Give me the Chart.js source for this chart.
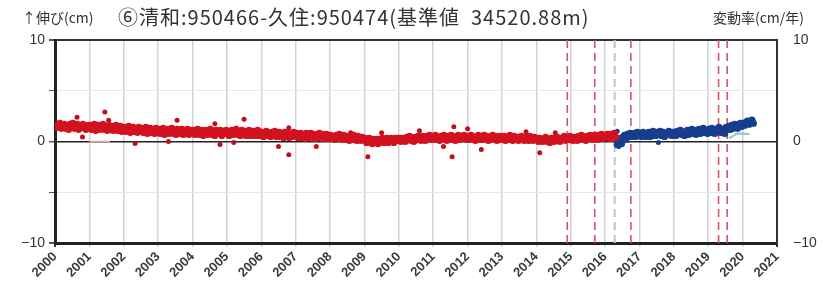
<!DOCTYPE html>
<html><head><meta charset="utf-8">
<script src="https://cdn.jsdelivr.net/npm/chart.js@4"></script>
<style>html,body{margin:0;padding:0;background:#fff}#wrap{width:831px;height:291px}</style>
</head><body><div id="wrap"><canvas id="c" width="831" height="291"></canvas></div>
<script>
const titleText = '⑥清和:950466-久住:950474(基準値  34520.88m)';
const leftUnit = '↑伸び(cm)';
const rightUnit = '変動率(cm/年)';
const yearTicks = [2000,2001,2002,2003,2004,2005,2006,2007,2008,2009,2010,2011,2012,2013,2014,2015,2016,2017,2018,2019,2020,2021];

// elongation (cm), sampled twice a month
const redStartYear = 2000;
const redElongation = [
 1.6,1.4,1.5,1.8,1.3,1.5,1.7,1.3,1.5,1.2,1.7,1.5,1.8,1.3,1.5,1.7,1.2,1.5,1.4,1.7,1.5,1.2,1.4,1.6,
 1.6,1.2,1.4,1.7,1.1,1.4,1.6,1.2,1.4,1.7,1.2,1.4,1.1,1.6,1.3,1.5,1.1,1.3,1.6,1.1,1.3,1.5,1.0,1.3,
 1.4,1.0,1.2,1.5,0.9,1.2,1.4,1.0,1.3,0.9,1.4,1.1,1.3,0.9,1.1,1.4,0.8,1.1,1.3,0.9,1.2,0.8,1.3,1.0,
 1.2,0.8,1.0,1.3,0.7,1.0,1.2,0.8,1.1,1.3,0.8,1.0,0.7,1.2,1.0,0.8,1.2,0.7,1.1,0.9,1.2,0.7,0.9,1.1,
 1.1,0.7,0.9,1.2,0.7,0.9,1.1,0.6,1.0,1.1,0.7,0.9,1.2,0.7,1.0,0.6,1.1,0.8,0.9,1.1,0.6,1.0,0.8,1.1,
 1.0,0.6,0.9,1.1,0.7,0.9,1.2,0.7,1.0,0.6,1.1,0.8,1.0,0.6,0.8,1.1,0.6,0.8,1.0,0.6,0.8,1.1,0.6,0.9,
 0.9,0.5,0.8,1.0,0.6,0.8,0.5,0.9,0.7,1.0,0.5,0.7,0.9,0.5,0.7,0.4,0.9,0.6,0.8,0.4,0.7,0.5,0.9,0.6,
 0.8,0.4,0.6,0.8,0.4,0.6,0.3,0.8,0.6,0.4,0.8,0.5,0.7,0.3,0.6,0.4,0.8,0.5,0.7,0.3,0.5,0.7,0.3,0.5,
 0.6,0.3,0.5,0.2,0.6,0.4,0.7,0.3,0.2,0.6,0.4,0.2,0.5,0.1,0.4,0.2,0.6,0.3,0.1,0.5,0.3,0.1,0.4,0.2,
 0.3,-0.1,0.1,0.3,-0.1,-0.2,0.2,0.0,0.2,-0.2,0.0,0.2,0.3,-0.1,0.1,0.3,-0.1,0.1,0.3,0.1,-0.1,0.3,0.1,0.3,
 0.3,0.0,0.3,0.2,0.0,0.4,0.2,0.5,0.1,0.3,0.0,0.4,0.2,0.5,0.3,0.1,0.5,0.3,0.1,0.5,0.3,0.6,0.2,0.4,
 0.3,0.6,0.2,0.4,0.1,0.5,0.3,0.6,0.4,0.1,0.5,0.3,0.6,0.2,0.4,0.1,0.5,0.6,0.2,0.4,0.3,0.6,0.4,0.2,
 0.5,0.2,0.6,0.3,0.4,0.1,0.5,0.6,0.2,0.4,0.2,0.6,0.3,0.5,0.1,0.4,0.2,0.6,0.3,0.5,0.1,0.3,0.5,0.2,
 0.3,0.5,0.1,0.4,0.2,0.6,0.3,0.1,0.5,0.2,0.4,0.1,0.3,0.5,0.2,0.1,0.4,0.3,0.1,0.5,0.2,0.1,0.4,0.2,
 0.3,0.0,0.3,0.1,0.0,0.2,0.4,0.0,0.2,-0.1,0.3,0.3,0.0,0.2,0.4,0.1,0.0,0.3,0.2,0.5,0.1,0.3,0.2,0.5,
 0.4,0.1,0.4,0.3,0.1,0.5,0.2,0.6,0.3,0.4,0.1,0.5,0.3,0.6,0.4,0.2,0.6,0.4,0.2,0.6,0.4,0.7,0.3,0.5,
 0.4,0.7,0.5,0.3,0.7,0.5,0.8,0.4
];
const blueStartYear = 2016 + 8/24;
const blueElongation = [
 -0.3,0.1,0.3,-0.2,0.4,0.6,0.2,0.7,0.5,0.8,0.5,0.6,0.8,0.5,0.9,0.6,
 0.8,0.5,0.9,0.7,0.5,0.8,0.9,0.5,0.7,1.0,0.6,0.6,0.9,0.7,1.0,0.6,0.9,0.5,0.8,0.7,1.0,0.8,0.6,0.9,
 0.9,0.6,1.0,0.8,1.1,0.7,0.9,0.6,1.0,1.1,0.7,0.9,1.2,0.8,1.1,0.7,1.0,1.2,0.8,1.0,1.3,0.9,1.1,0.8,
 1.2,0.9,1.3,1.1,0.8,1.2,1.0,1.4,0.9,1.2,1.1,0.8,1.4,1.2,1.5,1.2,1.6,1.3,1.7,1.5,1.3,1.7,1.8,1.5,
 1.8,1.6,1.9,2.0,1.7,1.9,2.1,1.8
];
const redOutlierYears = [2000.64,2000.8,2001.45,2001.56,2002.33,2003.3,2003.55,2004.65,2004.8,2005.2,2005.5,2006.5,2006.8,2006.8,2007.6,2008.6,2009.1,2009.5,2010.6,2011.3,2011.55,2011.6,2012.0,2012.4,2013.7,2014.1,2014.55];
const redOutlierValues = [2.4,0.45,2.9,2.1,-0.2,0.0,2.1,1.75,-0.3,-0.1,2.2,-0.5,1.35,-1.3,-0.5,0.85,-1.5,0.85,1.05,-0.5,-1.5,1.45,1.25,-0.8,0.95,-1.1,0.85];
const blueOutlierYears = [2016.35,2016.4,2017.55];
const blueOutlierValues = [1.0,-0.5,-0.1];

// rate of change (cm/yr)
const pinkRateYears = [2001.0, 2001.6];
const pinkRateValues = [0.0, 0.0];
const tealRateYears = [2019.6, 2019.75, 2019.85, 2020.2];
const tealRateValues = [0.3, 0.6, 0.8, 0.75];

// event markers
const redEventYears = [2014.9, 2015.7, 2016.75, 2019.3, 2019.55];
const blueEventYears = [2016.28];

const toPts = (start, vals) => vals.map((v, i) => ({x: start + (i + 0.5) / 24, y: v}));
const zip = (xs, ys) => xs.map((x, i) => ({x: x, y: ys[i]}));

const datasets = [];
datasets.push({data: toPts(redStartYear, redElongation), backgroundColor: '#d3121f', pointRadius: 3.6, pointBorderWidth: 0, order: 1});
datasets.push({data: zip(redOutlierYears, redOutlierValues), backgroundColor: '#c0101c', pointRadius: 2.5, pointBorderWidth: 0, order: 1});
datasets.push({data: toPts(blueStartYear, blueElongation), backgroundColor: '#173d8f', pointRadius: 3.6, pointBorderWidth: 0, order: 1});
datasets.push({data: zip(blueOutlierYears, blueOutlierValues), backgroundColor: '#173d8f', pointRadius: 2.5, pointBorderWidth: 0, order: 1});
datasets.push({data: zip(pinkRateYears, pinkRateValues), yAxisID: 'y2', showLine: true, borderColor: '#f0a0a8', borderWidth: 1.5, pointRadius: 0, order: 2});
datasets.push({data: zip(tealRateYears, tealRateValues), yAxisID: 'y2', showLine: true, borderColor: '#8cc8cc', borderWidth: 2, pointRadius: 0, order: 2});
redEventYears.forEach(yr => datasets.push({data: [{x: yr, y: -10}, {x: yr, y: 10}], showLine: true, borderColor: '#d9545d', borderWidth: 1.6, borderDash: [8, 5], pointRadius: 0, order: 5}));
blueEventYears.forEach(yr => datasets.push({data: [{x: yr, y: -10}, {x: yr, y: 10}], showLine: true, borderColor: '#b3c6dc', borderWidth: 2, borderDash: [8, 5], pointRadius: 0, order: 5}));

const fmt = v => (v % 10 === 0 ? String(v).replace('-', '−') : '');

const textPlugin = {
  id: 'texts',
  afterDraw(chart) {
    const ctx = chart.ctx;
    ctx.save();
    ctx.fillStyle = '#333';
    ctx.textBaseline = 'middle';
    ctx.font = '14px "Noto Sans CJK JP"';
    ctx.textAlign = 'left';
    ctx.letterSpacing = '0px';
    ctx.fillText(leftUnit, 22, 18);
    ctx.font = '20px "Noto Sans CJK JP"';
    ctx.letterSpacing = '1px';
    ctx.fillText(titleText, 118, 17);
    ctx.letterSpacing = '0px';
    ctx.font = '14px "Noto Sans CJK JP"';
    ctx.textAlign = 'right';
    ctx.fillText(rightUnit, 804, 18);
    ctx.restore();
  }
};

new Chart(document.getElementById('c'), {
  type: 'scatter',
  data: {datasets: datasets},
  options: {
    responsive: false, animation: false, devicePixelRatio: 1,
    layout: {padding: {top: 40, left: 0, right: 0, bottom: 0}},
    plugins: {legend: {display: false}, tooltip: {enabled: false}},
    scales: {
      x: {
        type: 'linear', min: 2000, max: 2021,
        afterBuildTicks: s => { s.ticks = yearTicks.map(v => ({value: v})); },
        afterFit: s => { s.height = 48; },
        ticks: {autoSkip: false, maxRotation: 45, minRotation: 45, padding: 2, color: '#3a3a3a',
          font: {family: 'Liberation Sans', size: 13, weight: 'bold'}, callback: v => String(v)},
        grid: {drawTicks: true, tickLength: 4,
          color: c => (c.tick && (c.tick.value === 2000 || c.tick.value === 2021)) ? '#333' : '#d2d2d2',
          lineWidth: c => (c.tick && (c.tick.value === 2000 || c.tick.value === 2021)) ? 2 : 1.5},
        border: {display: true, color: '#222', width: 3}
      },
      y: {
        position: 'left', min: -10, max: 10,
        afterBuildTicks: s => { s.ticks = [-10, -5, 0, 5, 10].map(v => ({value: v})); },
        afterFit: s => { s.width = 55; },
        ticks: {color: '#333', font: {family: 'Liberation Sans', size: 14}, padding: 4, callback: fmt},
        grid: {tickLength: 6,
          color: c => c.tick.value === 0 ? '#222' : (Math.abs(c.tick.value) === 10 ? '#333' : '#e6e6e6'),
          lineWidth: c => c.tick.value === 0 ? 1.5 : (Math.abs(c.tick.value) === 10 ? 2 : 1),
          tickColor: '#555'},
        border: {display: true, color: '#222', width: 3}
      },
      y2: {
        position: 'right', min: -10, max: 10,
        afterBuildTicks: s => { s.ticks = [-10, -5, 0, 5, 10].map(v => ({value: v})); },
        afterFit: s => { s.width = 54; },
        ticks: {color: '#333', font: {family: 'Liberation Sans', size: 14}, padding: 8, callback: fmt},
        grid: {display: false, drawOnChartArea: false},
        border: {display: true, color: '#333', width: 2}
      }
    }
  },
  plugins: [textPlugin]
});
</script>
</body></html>
